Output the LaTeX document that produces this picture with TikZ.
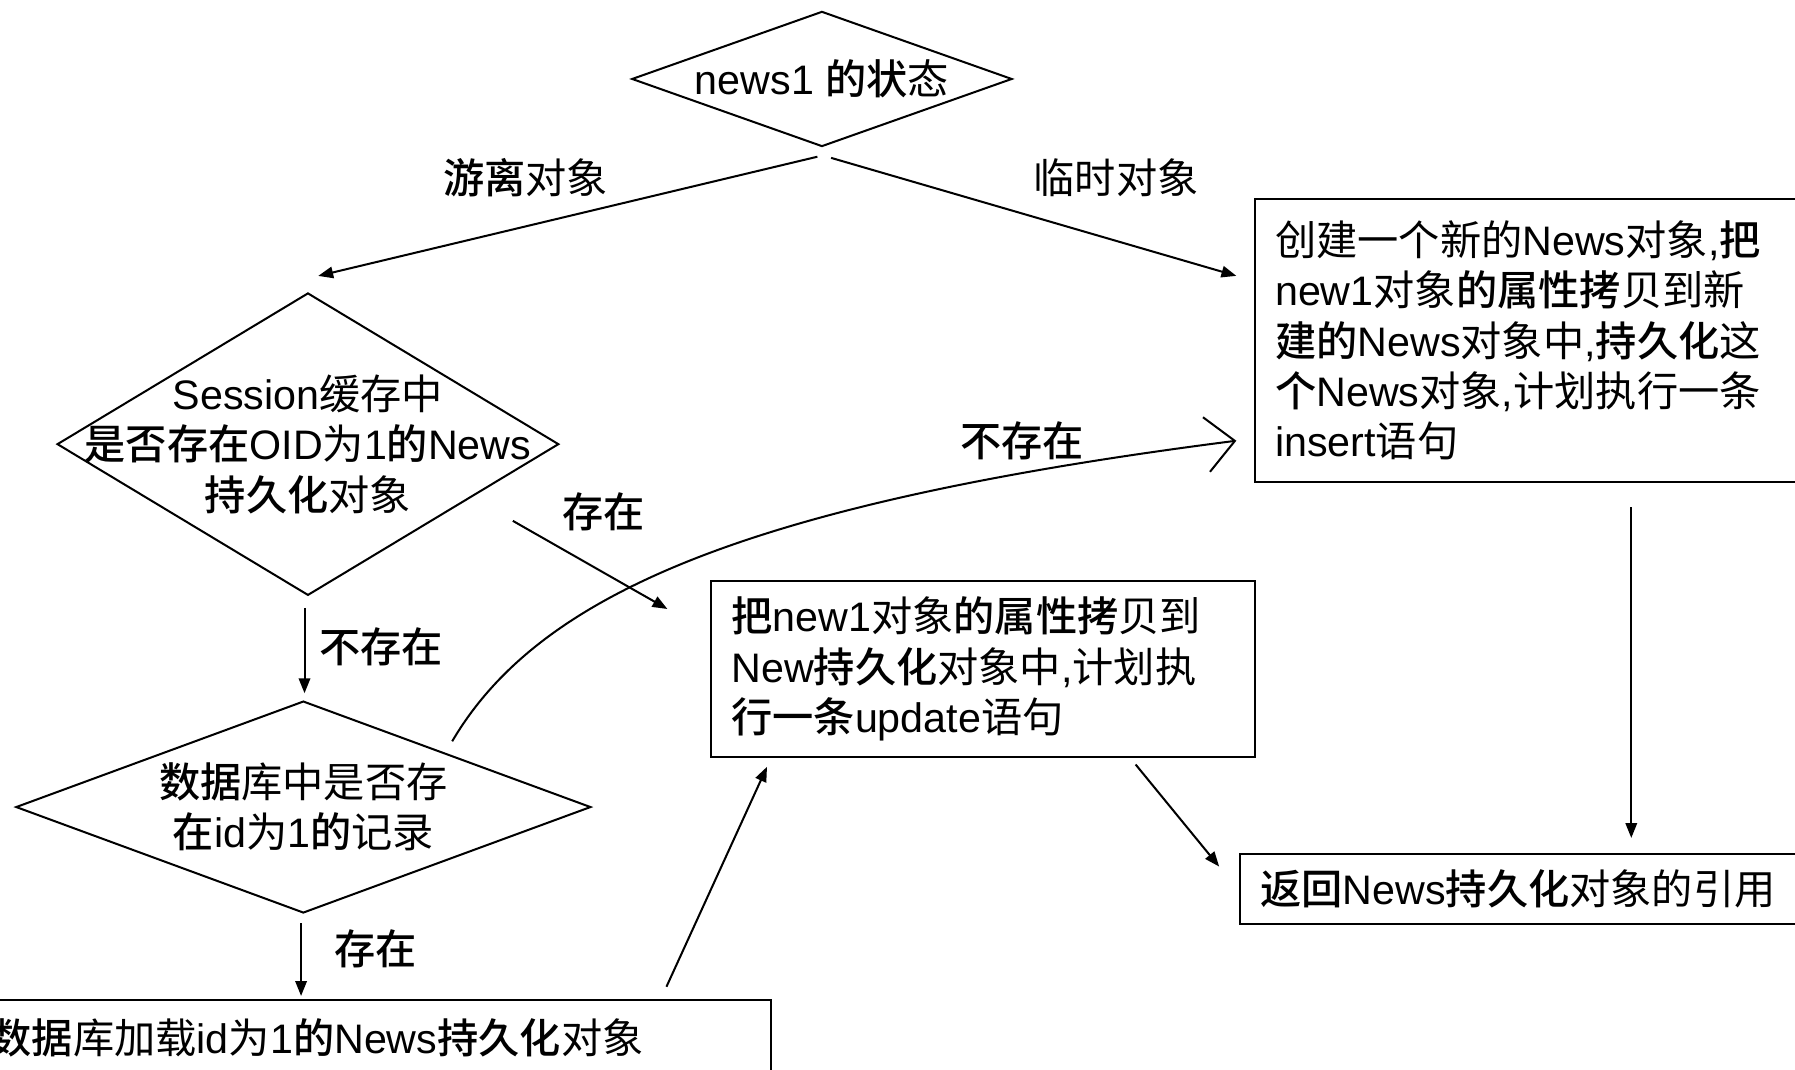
\documentclass[tikz,border=0pt]{standalone}
\usepackage{fontspec}
\setmainfont{Liberation Sans}
\newfontfamily\cjk{Noto Sans CJK SC}
\IfFontExistsTF{Noto Sans CJK SC Medium}
	{\newfontfamily\cjkb{Noto Sans CJK SC Medium}}
	{\newfontfamily\cjkb[FakeBold=1]{Noto Sans CJK SC}}
\usepackage{tikz}
\usetikzlibrary{positioning,calc,shapes.geometric,arrows.meta}

\newcommand{\zh}[1]{{\cjk #1}}
\newcommand{\zhb}[1]{{\cjkb #1}}

\begin{document}
\begin{tikzpicture}[x=0.01cm,y=-0.01cm,line width=0.5pt,
	every node/.style={font=\fontsize{10.24}{12.5}\selectfont},
	decision/.style={draw, diamond, inner sep=0pt},
	block/.style={draw, anchor=north west, align=left, inner xsep=0.18cm, inner ysep=0pt},
	flow/.style={-{Triangle[length=0.13cm,width=0.1cm]}}]
			\useasboundingbox (0,0) rectangle (1568,934);
			
			\node[decision, minimum width=3.32cm, minimum height=1.18cm] (state) at (718,69) {};
			\node (statetxt) at (state) {news1 \zhb{的状}\zh{态}};
			\node[decision, minimum width=4.38cm, minimum height=2.64cm] (sess) at (269,388) {};
			\node[align=center] (sesstxt) at (sess) {Session\zh{缓存中}\\\zhb{是否存在}OID\zh{为}1\zhb{的}News\\\zhb{持久化}\zh{对象}};
			\node[decision, minimum width=5.02cm, minimum height=1.85cm] (db) at (265,705) {};
			\node[align=center] (dbtxt) at (db) {\zhb{数据}\zh{库中是否存}\\\zhb{在}id\zh{为}1\zhb{的}\zh{记录}};
			
			\node[block, text width=6.7cm, minimum height=0.66cm, inner xsep=0.11cm] (load) at (-20,873) {\zhb{数据}\zh{库加载}id\zh{为}1\zhb{的}News\zhb{持久化}\zh{对象}};
			\node[block, text width=4.39cm, minimum height=1.53cm] (upd) at (620,507) {\zhb{把}new1\zh{对象}\zhb{的属性拷}\zh{贝到}\\New\zhb{持久化}\zh{对象中},\zh{计划执}\\\zhb{行一条}update\zh{语句}};
			\node[block, text width=4.49cm, minimum height=2.47cm] (create) at (1095,173) {\zh{创建一个新的}News\zh{对象},\zhb{把}\\new1\zh{对象}\zhb{的属性拷}\zh{贝到新}\\\zhb{建的}News\zh{对象中},\zhb{持久化}\zh{这}\\\zhb{个}News\zh{对象},\zh{计划执行一条}\\insert\zh{语句}};
			\node[block, text width=4.62cm, minimum height=0.61cm] (ret) at (1082,745) {\zhb{返回}News\zhb{持久化}\zh{对象的引用}};
			
			\node (detached) at (459,155) {\zhb{游离}\zh{对象}};
			\node (transient) at (975,155) {\zh{临时对象}};
			\node (nosess) at (333,565) {\zhb{不存在}};
			\node (insess) at (527,447) {\zhb{存在}};
			\node (nodb) at (893,385) {\zhb{不存在}};
			\node (indb) at (328,829) {\zhb{存在}};
			
			\draw[flow] ($(state.south)+(-4,8)$) -- ($(sess.north)+(9,-14)$);
			\draw[flow] ($(state.south)+(8,9)$) -- ($(create.north west)+(-15,68)$);
			\draw[flow] ($(sess.south)+(-3,10)$) -- ($(db.north)+(1,-6)$);
			\draw[flow] ($(db.south)+(-2,8)$) -- ($(load.north west)+(283,-3)$);
			\draw[flow] ($(load.north east)+(-92,-11)$) -- ($(upd.south west)+(50,8)$);
			\draw[flow] ($(sess.east)+(-41,67)$) -- ($(upd.north west)+(-37,25)$);
			\draw[-{Straight Barb[length=0.25cm,width=0.48cm]}] ($(db.north)+(130,36)$) .. controls (470,520) and (650,440) .. ($(create.north west)+(-15,212)$);
			\draw[flow] ($(upd.south east)+(-105,6)$) -- ($(ret.north west)+(-17,12)$);
			\draw[flow] ($(create.south west)+(330,21)$) -- ($(ret.north west)+(343,-13)$);
\end{tikzpicture}
\end{document}
